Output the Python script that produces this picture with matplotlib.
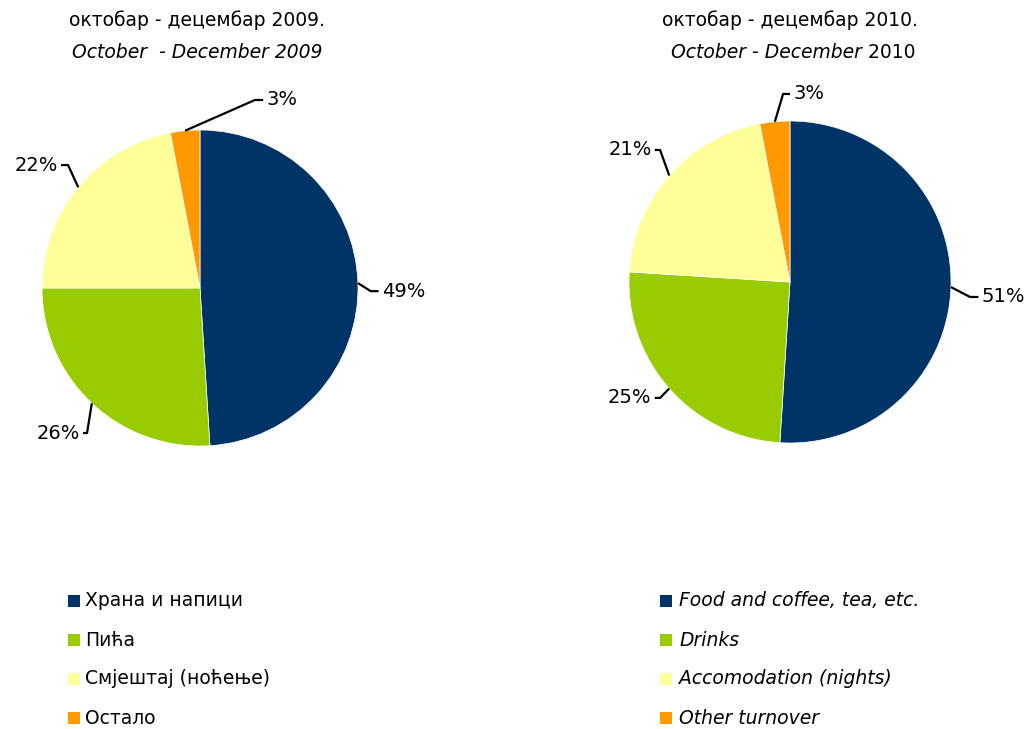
import matplotlib
matplotlib.use("Agg")
import matplotlib.pyplot as plt
import numpy as np

W_PX, H_PX = 1032, 729

# --- data ---
shares_2009 = [49, 26, 22, 3]
shares_2010 = [51, 25, 21, 3]
labels_sr = ["Храна и напици", "Пића", "Смјештај (ноћење)", "Остало"]
labels_en = ["Food and coffee, tea, etc.", "Drinks", "Accomodation (nights)", "Other turnover"]
colors = ["#003366", "#99CC00", "#FFFF99", "#FF9900"]

FS = 13.5      # titles / legend
FS_LAB = 14    # percentage labels

# label layout (pie radius units): elbow point and text x position
leaders_2009 = [((1.08, -0.02), 1.15), ((-0.715, -0.918), -0.76),
                ((-0.835, 0.778), -0.90), ((0.348, 1.19), 0.42)]
leaders_2010 = [((1.118, -0.093), 1.19), ((-0.807, -0.72), -0.86),
                ((-0.807, 0.82), -0.86), ((-0.043, 1.168), 0.02)]


def draw_pie(fig, cx, cy, r, values, leaders):
    L = 1.7
    w = 2 * L * r
    ax = fig.add_axes([(cx - w / 2) / W_PX, 1 - (cy + w / 2) / H_PX, w / W_PX, w / H_PX])
    ax.pie(values, colors=colors, startangle=90, counterclock=False,
           radius=1, wedgeprops=dict(edgecolor="white", linewidth=0.5))
    ax.set_xlim(-L, L)
    ax.set_ylim(-L, L)
    ax.set_aspect("equal")
    ax.axis("off")
    total = float(sum(values))
    start = 90.0
    for v, (elbow, tx) in zip(values, leaders):
        mid = np.radians(start - v / total * 180.0)
        start -= v / total * 360.0
        p0 = (np.cos(mid), np.sin(mid))
        ex, ey = elbow
        side = 1 if tx > ex else -1
        hx = tx - side * 0.02
        ax.plot([p0[0], ex, hx], [p0[1], ey, ey], color="black", lw=1.6,
                solid_capstyle="butt", clip_on=False)
        ax.text(tx, ey, f"{v}%", ha="left" if side > 0 else "right", va="center",
                fontsize=FS_LAB, clip_on=False)
    return ax


fig = plt.figure(figsize=(W_PX / 100, H_PX / 100), dpi=100)
fig.patch.set_facecolor("white")

draw_pie(fig, 200, 288, 158, shares_2009, leaders_2009)
draw_pie(fig, 790, 282, 161, shares_2010, leaders_2010)

# titles
fig.text(197 / W_PX, 1 - 20 / H_PX, "октобар - децембар 2009.", ha="center", va="center", fontsize=FS)
fig.text(197 / W_PX, 1 - 52 / H_PX, "October  - December 2009", ha="center", va="center",
         fontsize=FS, style="italic")
fig.text(790 / W_PX, 1 - 20 / H_PX, "октобар - децембар 2010.", ha="center", va="center", fontsize=FS)
fig.text(862 / W_PX, 1 - 52 / H_PX, "October - December", ha="right", va="center",
         fontsize=FS, style="italic")
fig.text(862 / W_PX, 1 - 52 / H_PX, " 2010", ha="left", va="center", fontsize=FS)

# legends
rows_y = [601, 640, 679, 718]
for i, y in enumerate(rows_y):
    for sx, tx, lab, st in [(68, 85, labels_sr[i], "normal"), (660, 679, labels_en[i], "italic")]:
        fig.patches.append(plt.Rectangle((sx / W_PX, 1 - (y + 6) / H_PX), 12 / W_PX, 12 / H_PX,
                                         facecolor=colors[i], edgecolor="none",
                                         transform=fig.transFigure, figure=fig))
        fig.text(tx / W_PX, 1 - y / H_PX, lab, ha="left", va="center", fontsize=FS, style=st)

fig.savefig("out.png", dpi=100)
